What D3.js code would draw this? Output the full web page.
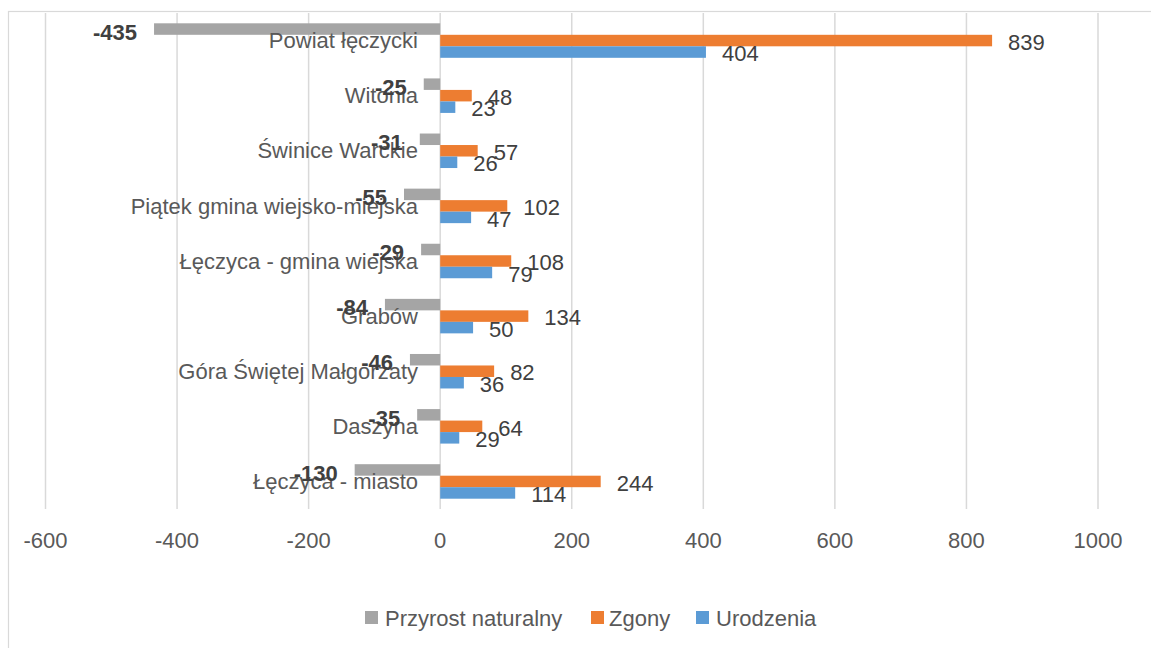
<!DOCTYPE html>
<html><head><meta charset="utf-8">
<script src="https://cdn.jsdelivr.net/npm/d3@7"></script>
<style>
html,body{margin:0;padding:0;background:#fff;}
svg{display:block;font-family:"Liberation Sans",Arial,sans-serif;}
</style></head>
<body>
<svg id="c" width="1151" height="648"></svg>
<script>
const categories = ["Powiat łęczycki","Witonia","Świnice Warckie","Piątek gmina wiejsko-miejska","Łęczyca - gmina wiejska","Grabów","Góra Świętej Małgorzaty","Daszyna","Łęczyca - miasto"];
const przyrost = [-435,-25,-31,-55,-29,-84,-46,-35,-130];
const zgony = [839,48,57,102,108,134,82,64,244];
const urodzenia = [404,23,26,47,79,50,36,29,114];
const xTicks = [-600,-400,-200,0,200,400,600,800,1000];
const seriesNames = ["Przyrost naturalny","Zgony","Urodzenia"];
const seriesColors = ["#A5A5A5","#ED7D31","#5B9BD5"];

(function(){
const FS = 22;
const svg = d3.select("#c");
svg.append("rect").attr("x",8.5).attr("y",11.5).attr("width",1160).attr("height",660)
  .attr("fill","none").attr("stroke","#D9D9D9").attr("stroke-width",1.2);

const x = d3.scaleLinear().domain([-600,1000]).range([45.5,1098]);
const plotTop=13, plotBottom=509;
const y = d3.scaleBand().domain(categories).range([plotTop,plotBottom]).paddingInner(0.374).paddingOuter(0.187);
const inner = d3.scaleBand().domain(seriesNames).range([0,y.bandwidth()]);

svg.append("g").selectAll("line").data(xTicks).join("line")
  .attr("x1",d=>x(d)).attr("x2",d=>x(d)).attr("y1",plotTop).attr("y2",plotBottom)
  .attr("stroke","#D9D9D9").attr("stroke-width",1.5);

svg.append("g").selectAll("text").data(xTicks).join("text")
  .attr("x",d=>x(d)).attr("y",540).attr("dy","0.35em").attr("text-anchor","middle")
  .attr("font-size",FS).attr("fill","#595959").text(d=>d);

const series = [przyrost, zgony, urodzenia];
series.forEach((vals,si)=>{
  svg.append("g").selectAll("rect").data(vals).join("rect")
    .attr("x",d=>x(Math.min(0,d)))
    .attr("width",d=>Math.abs(x(d)-x(0)))
    .attr("y",(d,i)=>y(categories[i])+inner(seriesNames[si]))
    .attr("height",inner.bandwidth())
    .attr("fill",seriesColors[si]);
});

svg.append("g").selectAll("text").data(categories).join("text")
  .attr("x",418).attr("y",d=>y(d)+y.bandwidth()/2).attr("dy","0.35em")
  .attr("text-anchor","end").attr("font-size",FS).attr("fill","#595959").text(d=>d);

series.forEach((vals,si)=>{
  svg.append("g").selectAll("text").data(vals).join("text")
    .attr("x",d=> d<0 ? x(d)-17 : x(d)+16)
    .attr("y",(d,i)=>y(categories[i])+inner(seriesNames[si])+inner.bandwidth()/2 + (si===0?3:1.5))
    .attr("dy","0.35em")
    .attr("text-anchor",d=> d<0 ? "end":"start")
    .attr("font-size",FS)
    .attr("font-weight",si===0?"bold":"normal")
    .attr("fill","#404040").text(d=>d);
});

const legendItems = [
  {name:seriesNames[0], color:seriesColors[0], sx:365, tx:385},
  {name:seriesNames[1], color:seriesColors[1], sx:591, tx:609},
  {name:seriesNames[2], color:seriesColors[2], sx:696, tx:716}
];
const lg = svg.append("g");
legendItems.forEach(it=>{
  lg.append("rect").attr("x",it.sx).attr("y",611).attr("width",13).attr("height",13).attr("fill",it.color);
  lg.append("text").attr("x",it.tx).attr("y",618).attr("dy","0.35em").attr("font-size",FS)
    .attr("fill","#595959").text(it.name);
});
})();
</script>
</body></html>
